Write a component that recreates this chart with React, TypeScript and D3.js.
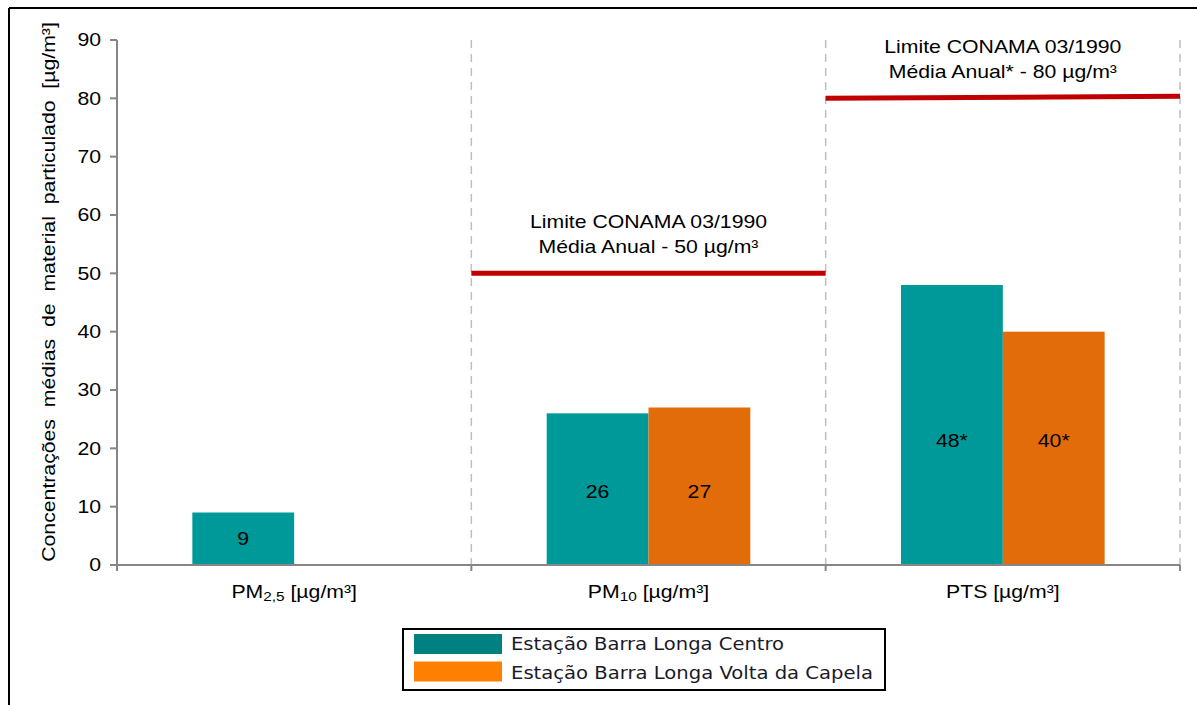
import React from "react";
import * as d3 from "d3";

// categories and series
const categories = ["PM2,5", "PM10", "PTS"];
const series = ["Estação Barra Longa Centro", "Estação Barra Longa Volta da Capela"];
const centro = [9, 26, 48];
const capela = [0, 27, 40];
const valueLabels = [["9", ""], ["26", "27"], ["48*", "40*"]];
const limitValues = [null, 50, 80];
const limitText = [null, ["Limite CONAMA 03/1990", "Média Anual - 50 µg/m³"], ["Limite CONAMA 03/1990", "Média Anual* - 80 µg/m³"]];
const yTicks = [0, 10, 20, 30, 40, 50, 60, 70, 80, 90];

const barColors = ["#009999", "#e36c0a"];
const legendColors = ["#008080", "#ff8000"];
const font = "'Liberation Sans', Arial, sans-serif";
const SX = 1.18; // text in the original is stretched sideways

// text drawn at (x, y), widened by SX
const T = ({x, y, anchor = "middle", size = 18, children, dy = "0"}) => (
  <text transform={`translate(${x},${y}) scale(${SX},1)`} textAnchor={anchor} fontSize={size} dy={dy} fill="#000">
    {children}
  </text>
);

const App = () => {
  const left = 117, right = 1180, top = 40, bottom = 565;

  const x = d3.scaleBand().domain(categories).range([left, right]);
  const inner = d3.scaleBand().domain(series).range([0, x.bandwidth()]).paddingOuter(0.74).paddingInner(0);
  const y = d3.scaleLinear().domain([0, 90]).range([bottom, top]);

  const values = [centro, capela];

  return (
    <svg width={1197} height={705} style={{position: "absolute", left: 0, top: 0, background: "#fff"}} fontFamily={font}>
      {/* outer frame */}
      <line x1={9} y1={8} x2={1197} y2={8} stroke="#000" strokeWidth={2} />
      <line x1={9} y1={8} x2={9} y2={705} stroke="#000" strokeWidth={2} />

      {/* dashed separators */}
      {categories.map((c, i) => (
        <line key={"sep" + i} x1={x(c) + x.bandwidth()} x2={x(c) + x.bandwidth()} y1={top} y2={bottom}
          stroke="#bfbfbf" strokeWidth={1.5} strokeDasharray="8,6" />
      ))}

      {/* bars */}
      {categories.map((c, i) => series.map((s, j) => {
        const v = values[j][i];
        if (!v) return null;
        return (
          <rect key={c + s} x={x(c) + inner(s)} y={y(v)} width={inner.bandwidth()} height={y(0) - y(v)} fill={barColors[j]} />
        );
      }))}

      {/* value labels */}
      {categories.map((c, i) => {
        const vs = series.map((s, j) => values[j][i]).filter(v => v > 0);
        const mid = d3.mean(vs) / 2;
        return series.map((s, j) => valueLabels[i][j] ? (
          <T key={"lab" + c + s} x={x(c) + inner(s) + inner.bandwidth() / 2} y={y(mid) + (vs.length > 1 ? 4 : 0)} dy="0.35em">
            {valueLabels[i][j]}
          </T>
        ) : null);
      })}

      {/* limit lines */}
      {categories.map((c, i) => limitValues[i] == null ? null : (
        <g key={"lim" + c}>
          <line x1={x(c)} x2={x(c) + x.bandwidth()} y1={y(limitValues[i])} y2={y(limitValues[i]) - (i === 2 ? 2 : 0)}
            stroke="#c00000" strokeWidth={5} />
          <T x={x(c) + x.bandwidth() / 2} y={y(limitValues[i]) - 45}>{limitText[i][0]}</T>
          <T x={x(c) + x.bandwidth() / 2} y={y(limitValues[i]) - 20}>{limitText[i][1]}</T>
        </g>
      ))}

      {/* y axis */}
      <line x1={left} x2={left} y1={top} y2={bottom} stroke="#868686" strokeWidth={2} />
      {yTicks.map(t => (
        <g key={"yt" + t}>
          <line x1={left - 7} x2={left} y1={y(t)} y2={y(t)} stroke="#868686" strokeWidth={2} />
          <T x={left - 16} y={y(t)} dy="0.35em" anchor="end">{t}</T>
        </g>
      ))}

      {/* x axis */}
      <line x1={left} x2={right} y1={bottom} y2={bottom} stroke="#868686" strokeWidth={2} />
      {[left, ...categories.map(c => x(c) + x.bandwidth())].map((px, i) => (
        <line key={"xt" + i} x1={px} x2={px} y1={bottom} y2={bottom + 6} stroke="#868686" strokeWidth={2} />
      ))}
      {categories.map(c => {
        const m = c.match(/^PM(.*)$/);
        return (
          <T key={"xl" + c} x={x(c) + x.bandwidth() / 2} y={bottom + 33}>
            {m ? (<>PM<tspan fontSize={13} dy={3}>{m[1]}</tspan><tspan dy={-3}> [µg/m³]</tspan></>) : c + " [µg/m³]"}
          </T>
        );
      })}

      {/* y axis title */}
      <text transform={`translate(55, 292) rotate(-90) scale(${SX},1)`} textAnchor="middle"
        fontSize={18} fill="#000" wordSpacing={5}>
        Concentrações médias de material particulado [µg/m³]
      </text>

      {/* legend */}
      <rect x={403} y={629} width={482} height={61} fill="#fff" stroke="#000" strokeWidth={2} />
      {series.map((s, j) => (
        <g key={"lg" + s}>
          <rect x={414} y={634 + j * 27.5} width={88} height={20} fill={legendColors[j]} />
          <text x={511} y={644 + j * 28.5} dy="0.35em" fontSize={18} fill="#1a1a2a" fontFamily="'DejaVu Sans', sans-serif"
            textLength={j === 0 ? 273 : 362} lengthAdjust="spacingAndGlyphs">{s}</text>
        </g>
      ))}
    </svg>
  );
};

export default App;
